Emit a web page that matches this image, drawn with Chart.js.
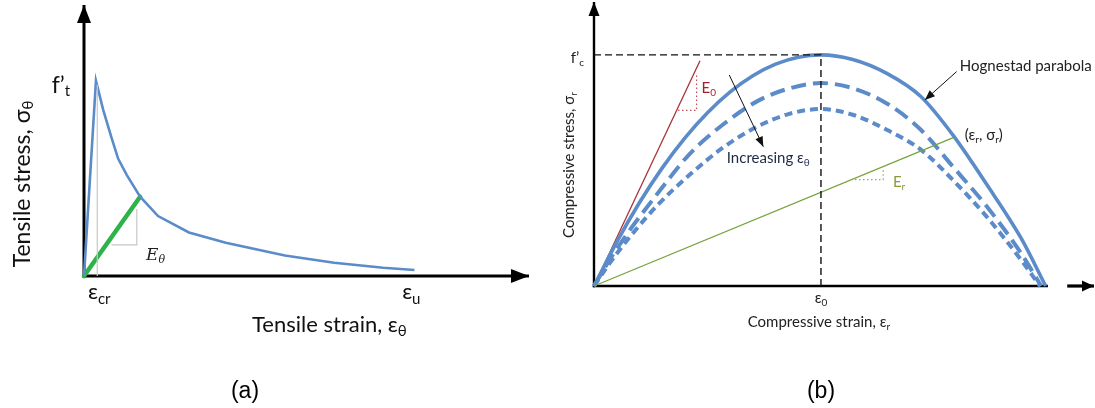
<!DOCTYPE html>
<html>
<head>
<meta charset="utf-8">
<script src="https://cdn.jsdelivr.net/npm/chart.js@4.4.0/dist/chart.umd.min.js"></script>
<style>
  body { margin: 0; background: #fff; }
  #wrap { position: relative; width: 1095px; height: 408px; overflow: hidden; }
  canvas { position: absolute; left: 0; top: 0; }
  .cap { position: absolute; top: 377px; width: 80px; text-align: center; font: 23px 'Liberation Sans', Arial, sans-serif; color: #000; }
</style>
</head>
<body>
<div id="wrap">
  <canvas id="chartA" width="1095" height="408"></canvas>
  <canvas id="chartB" width="1095" height="408"></canvas>
  <div class="cap" style="left:205px">(a)</div>
  <div class="cap" style="left:781px">(b)</div>
</div>
<script>
// (a) tensile softening, x = strain / eps_u, y = stress / f't
const tensX = [0, 0.036, 0.058, 0.083, 0.103, 0.129, 0.169, 0.223, 0.316, 0.427, 0.605, 0.753, 0.901, 0.995]
const tensY = [0, 1.0, 0.85, 0.707, 0.60, 0.517, 0.406, 0.307, 0.223, 0.170, 0.105, 0.068, 0.042, 0.031]
const secantX = [0, 0.169]
const secantY = [0, 0.406]
const crackX = [0.04, 0.04]
const crackY = [0.98, 0]
const slopeAX = [0.083, 0.159, 0.159]
const slopeAY = [0.159, 0.159, 0.343]
const ticksA = [0.012, 0.958]          // eps_cr, eps_u
const tickSubA = ['cr', 'u']

// (b) compressive curves, x = strain / eps_0, y = stress / f'c
const hogX = [0, 0.1, 0.2, 0.3, 0.4, 0.5, 0.6, 0.7, 0.8, 0.9, 1.0, 1.14, 1.29, 1.44, 1.58, 1.73, 1.88, 1.99]
const hogY = [0, 0.19, 0.36, 0.51, 0.64, 0.75, 0.84, 0.91, 0.96, 0.99, 1.0, 0.98, 0.92, 0.82, 0.655, 0.44, 0.21, 0]
const midX = [0, 0.07, 0.16, 0.28, 0.42, 0.57, 0.72, 0.86, 1.0, 1.14, 1.29, 1.44, 1.58, 1.73, 1.88, 1.97]
const midY = [0, 0.115, 0.245, 0.40, 0.57, 0.70, 0.80, 0.855, 0.878, 0.856, 0.79, 0.676, 0.518, 0.345, 0.144, 0]
const lowX = [0, 0.07, 0.16, 0.28, 0.42, 0.57, 0.72, 0.86, 1.0, 1.14, 1.29, 1.44, 1.58, 1.73, 1.88, 1.965]
const lowY = [0, 0.10, 0.215, 0.35, 0.48, 0.60, 0.69, 0.745, 0.766, 0.741, 0.676, 0.59, 0.46, 0.30, 0.115, 0]
const e0X = [0, 0.467]
const e0Y = [0, 0.975]
const erX = [0, 1.583]
const erY = [0, 0.642]
const peakX = [0, 1, 1]
const peakY = [1, 1, 0]
const e0TriX = [0.37, 0.452, 0.452]
const e0TriY = [0.76, 0.76, 0.914]
const erTriX = [1.15, 1.274, 1.274]
const erTriY = [0.46, 0.46, 0.507]

const BLUE = '#5b8bc8'
const LATO = 'Lato, "Open Sans", sans-serif'

const line = (xs, ys, color, width, extra) => Object.assign({
  data: xs.map((x, i) => ({ x, y: ys[i] })),
  showLine: true,
  borderColor: color,
  borderWidth: width,
  pointRadius: 0,
  fill: false,
  clip: false,
}, extra || {})

// text made of pieces [text, font, dy], y is baseline
function rich(ctx, parts, x, y, align, color) {
  let w = 0
  parts.forEach((p) => { ctx.font = p[1]; w += ctx.measureText(p[0]).width })
  let cx = align === 'center' ? x - w / 2 : align === 'right' ? x - w : x
  ctx.fillStyle = color || '#000'
  ctx.textAlign = 'left'
  ctx.textBaseline = 'alphabetic'
  parts.forEach((p) => {
    ctx.font = p[1]
    ctx.fillText(p[0], cx, y + (p[2] || 0))
    cx += ctx.measureText(p[0]).width
  })
}

function arrowHead(ctx, x1, y1, x2, y2, len, half) {
  const a = Math.atan2(y2 - y1, x2 - x1)
  ctx.beginPath()
  ctx.moveTo(x2, y2)
  ctx.lineTo(x2 - len * Math.cos(a) + half * Math.sin(a), y2 - len * Math.sin(a) - half * Math.cos(a))
  ctx.lineTo(x2 - len * Math.cos(a) - half * Math.sin(a), y2 - len * Math.sin(a) + half * Math.cos(a))
  ctx.closePath()
  ctx.fill()
}

function arrow(ctx, x1, y1, x2, y2, len, half) {
  ctx.beginPath()
  ctx.moveTo(x1, y1)
  ctx.lineTo(x2, y2)
  ctx.stroke()
  arrowHead(ctx, x1, y1, x2, y2, len, half)
}

const hidden = (min, max) => ({ type: 'linear', min, max, display: false })

const axesA = {
  id: 'axesA',
  beforeDatasetsDraw(chart) {
    const { ctx, chartArea: c } = chart
    ctx.save()
    ctx.strokeStyle = '#000'
    ctx.fillStyle = '#000'
    ctx.lineWidth = 3
    arrow(ctx, c.left, c.bottom + 1.5, c.left, c.top, 18, 7)
    arrow(ctx, c.left - 1.5, c.bottom, c.right, c.bottom, 18, 7)
    ctx.restore()
  },
  afterDraw(chart) {
    const { ctx } = chart
    const px = (v) => chart.scales.x.getPixelForValue(v)
    const py = (v) => chart.scales.y.getPixelForValue(v)
    const big = '22px ' + LATO
    const sub = '15px ' + LATO
    ctx.save()
    rich(ctx, [['f’', '23px ' + LATO], ['t', sub, 3]], px(-0.042), 93, 'right', '#111')
    ticksA.forEach((t, i) => rich(ctx, [['ε', big], [tickSubA[i], sub, 5]], px(t), 299, 'left', '#111'))
    rich(ctx, [['Tensile strain, ε', big], ['θ', sub, 4]], px(0.506), 332, 'left', '#111')
    rich(ctx, [['E', 'italic 17px "DejaVu Serif", serif'], ['θ', 'italic 11px "DejaVu Serif", serif', 3]],
      146, py(0.082), 'left', '#222')
    ctx.translate(30, 184)
    ctx.rotate(-Math.PI / 2)
    rich(ctx, [['Tensile stress, σ', '23px ' + LATO], ['θ', sub, 3]], 0, 0, 'center', '#111')
    ctx.restore()
  },
}

new Chart(document.getElementById('chartA'), {
  type: 'scatter',
  data: {
    datasets: [
      line(crackX, crackY, '#c8c8c8', 1.2),
      line(slopeAX, slopeAY, '#c8c8c8', 1.2),
      line(tensX, tensY, BLUE, 2.6),
      line(secantX, secantY, '#2db34a', 4.5, { borderCapStyle: 'round' }),
    ],
  },
  options: {
    responsive: false,
    devicePixelRatio: 1,
    animation: false,
    events: [],
    layout: { padding: { left: 84, right: 566, top: 5, bottom: 132 } },
    scales: { x: hidden(0, 1.34), y: hidden(0, 1.388) },
    plugins: { legend: { display: false }, tooltip: { enabled: false } },
  },
  plugins: [axesA],
})

const axesB = {
  id: 'axesB',
  beforeDatasetsDraw(chart) {
    const { ctx, chartArea: c } = chart
    const px = (v) => chart.scales.x.getPixelForValue(v)
    ctx.save()
    ctx.strokeStyle = '#000'
    ctx.fillStyle = '#000'
    ctx.lineWidth = 2.4
    arrow(ctx, c.left, c.bottom + 1.2, c.left, c.top, 14, 5.5)
    ctx.beginPath()
    ctx.moveTo(c.left - 1.2, c.bottom)
    ctx.lineTo(px(2.0), c.bottom)
    ctx.stroke()
    ctx.lineWidth = 3.2
    arrow(ctx, px(2.085), c.bottom, c.right, c.bottom, 12, 5.5)
    ctx.restore()
  },
  afterDraw(chart) {
    const { ctx } = chart
    const px = (v) => chart.scales.x.getPixelForValue(v)
    const py = (v) => chart.scales.y.getPixelForValue(v)
    const f = '15px ' + LATO
    const s = '10px ' + LATO
    ctx.save()
    ctx.strokeStyle = '#111'
    ctx.fillStyle = '#111'
    ctx.lineWidth = 1
    arrow(ctx, px(0.596), py(0.913), px(0.746), py(0.603), 10, 4)
    arrow(ctx, px(1.598), py(0.928), px(1.458), py(0.805), 10, 4)
    rich(ctx, [['Hognestad parabola', f]], px(1.612), 71, 'left', '#222')
    rich(ctx, [['(ε', f], ['r', s, 3], [', σ', f], ['r', s, 3], [')', f]], px(1.634), 140, 'left', '#222')
    rich(ctx, [['Increasing ε', f], ['θ', s, 3]], px(0.585), 162.5, 'left', '#1d2a44')
    rich(ctx, [['E', f], ['0', s, 3]], px(0.474), 92.5, 'left', '#a31f2c')
    rich(ctx, [['E', f], ['r', s, 3]], px(1.317), 186.5, 'left', '#8c9a3c')
    rich(ctx, [['f’', f], ['c', s, 3]], 584, 63, 'right', '#222')
    rich(ctx, [['ε', f], ['0', s, 3]], px(1.0), 303, 'center', '#222')
    rich(ctx, [['Compressive strain, ε', f], ['r', s, 3]], px(0.991), 327, 'center', '#222')
    ctx.translate(574, 165)
    ctx.rotate(-Math.PI / 2)
    rich(ctx, [['Compressive stress, σ', f], ['r', s, 3]], 0, 0, 'center', '#222')
    ctx.restore()
  },
}

new Chart(document.getElementById('chartB'), {
  type: 'scatter',
  data: {
    datasets: [
      line(peakX, peakY, '#111', 1.4, { borderDash: [7, 4] }),
      line(e0TriX, e0TriY, '#c0505a', 1.2, { borderDash: [1.5, 2.5] }),
      line(erTriX, erTriY, '#8db050', 1.2, { borderDash: [1.5, 2.5] }),
      line(erX, erY, '#76a33c', 1.3),
      line(lowX, lowY, BLUE, 4, { borderDash: [8, 5], cubicInterpolationMode: 'monotone' }),
      line(midX, midY, BLUE, 4, { borderDash: [15, 7], cubicInterpolationMode: 'monotone' }),
      line(hogX, hogY, BLUE, 3.6, { cubicInterpolationMode: 'monotone' }),
      line(e0X, e0Y, '#a8323a', 1.3),
    ],
  },
  options: {
    responsive: false,
    devicePixelRatio: 1,
    animation: false,
    events: [],
    layout: { padding: { left: 594, right: 1, top: 2, bottom: 122 } },
    scales: { x: hidden(0, 2.203), y: hidden(0, 1.229) },
    plugins: { legend: { display: false }, tooltip: { enabled: false } },
  },
  plugins: [axesB],
})
</script>
</body>
</html>
